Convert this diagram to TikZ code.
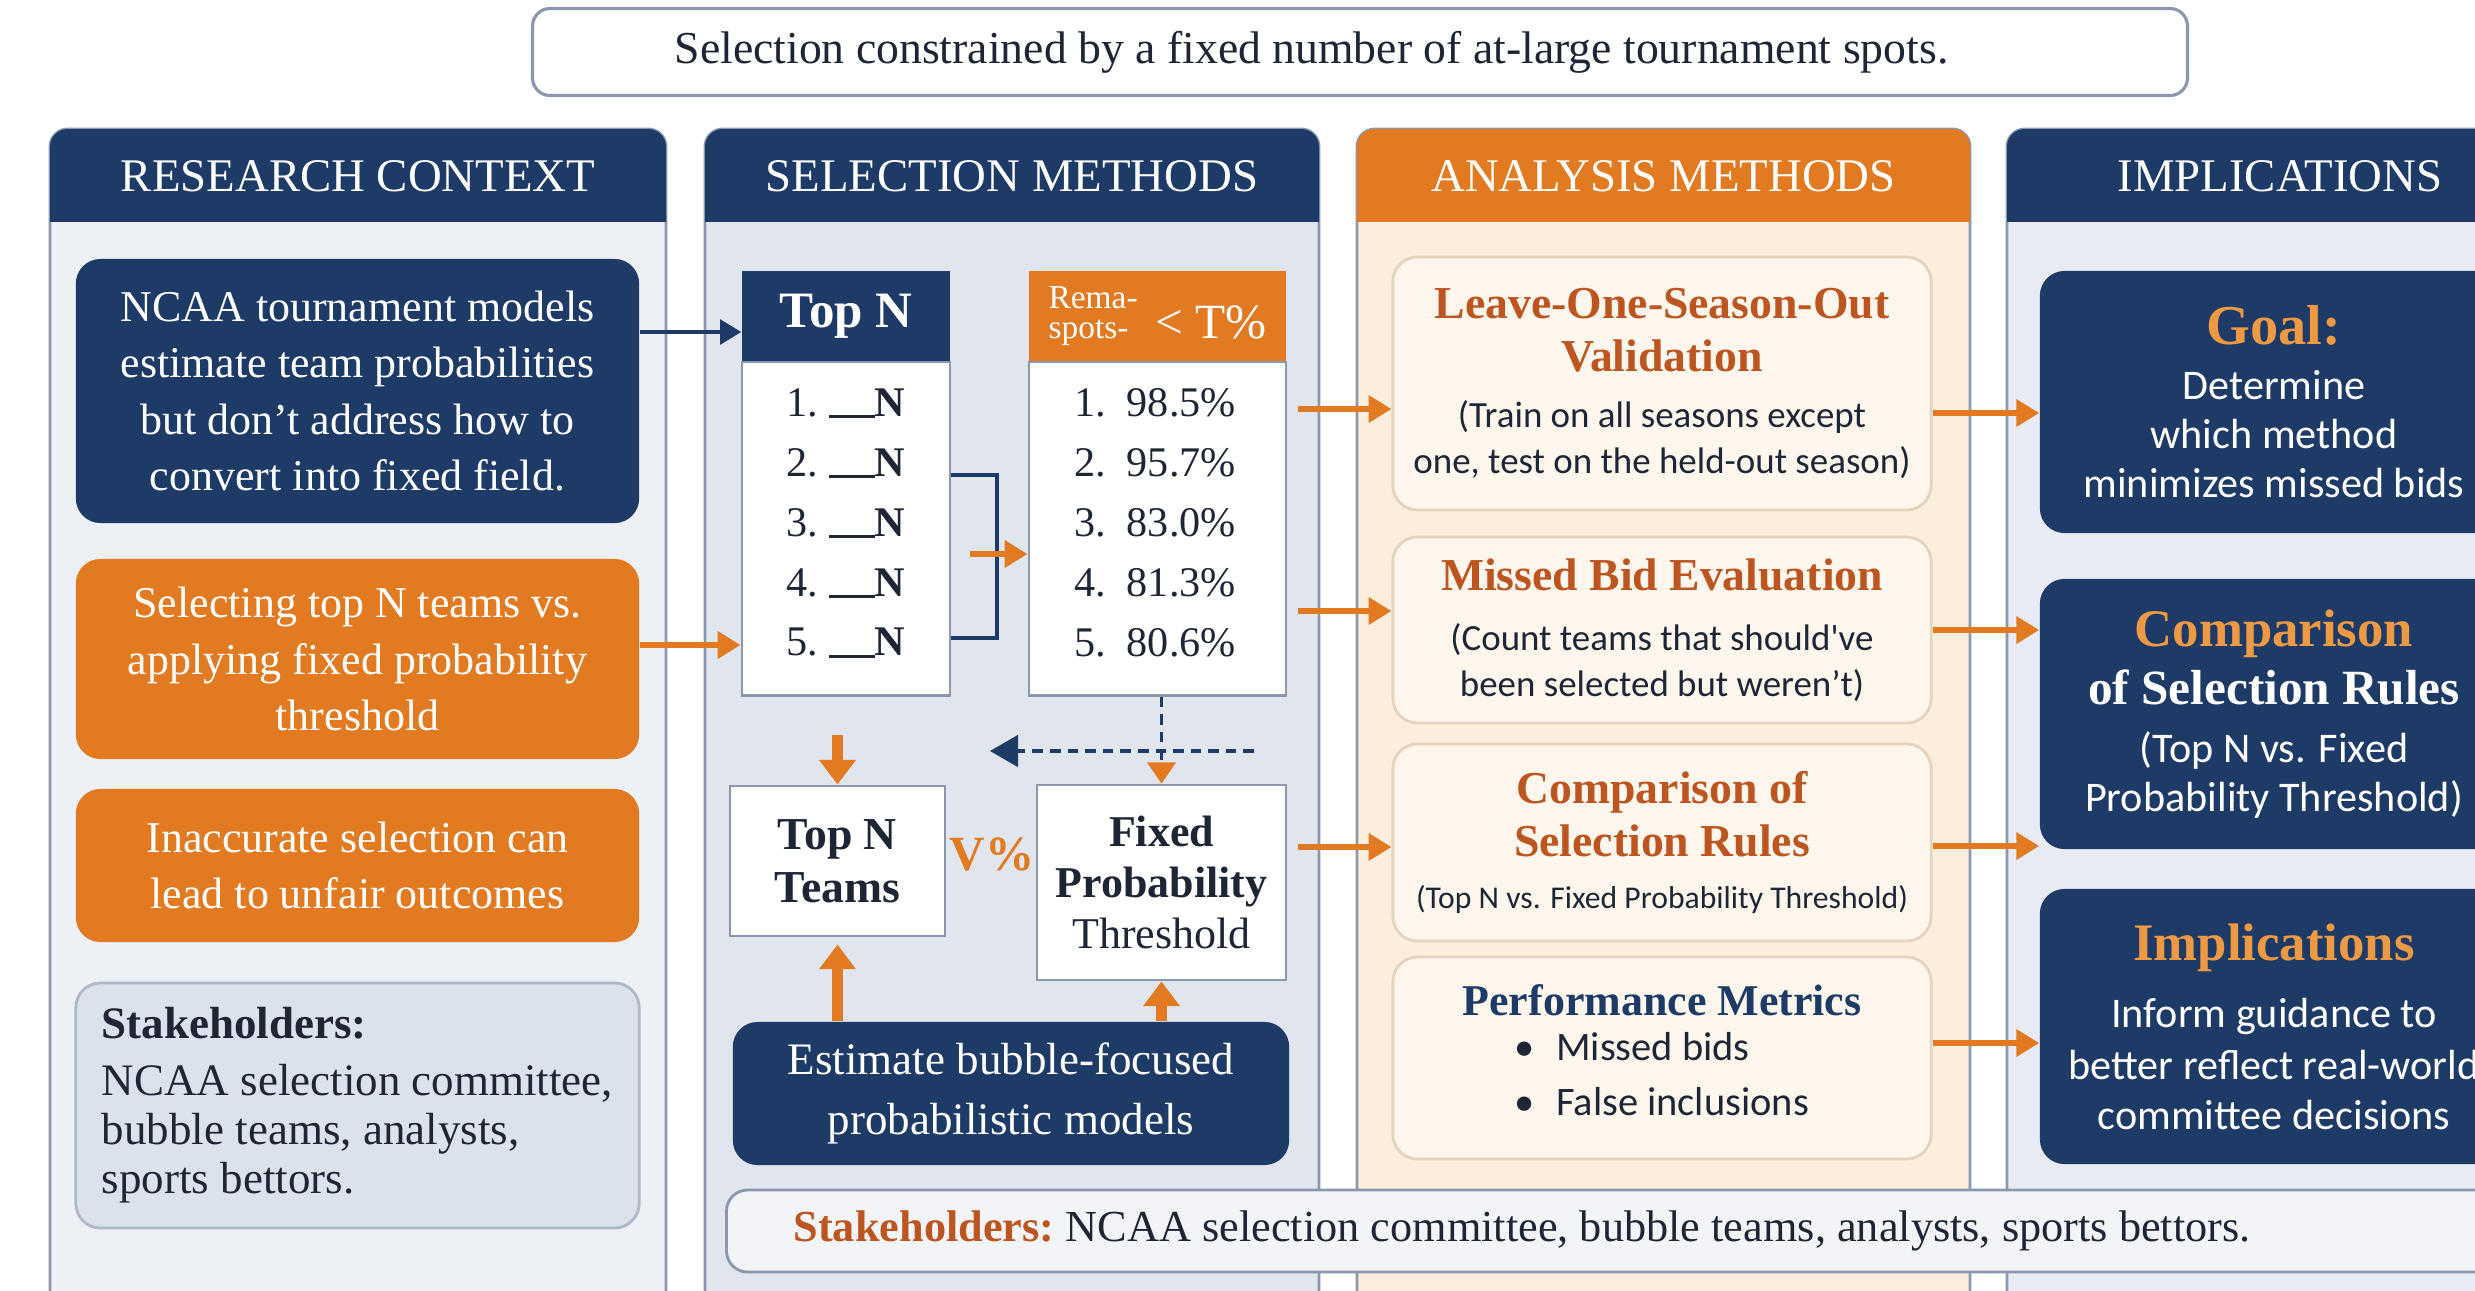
\documentclass[tikz,border=0pt]{standalone}
\usepackage{fontspec}
\setmainfont{Liberation Serif}
\newfontfamily\sansbody{Carlito}
\usetikzlibrary{arrows.meta}

\definecolor{navy}{HTML}{1D3B66}
\definecolor{orng}{HTML}{E27A22}
\definecolor{rust}{HTML}{BD5520}
\definecolor{goalor}{HTML}{EE9A45}
\definecolor{frame}{HTML}{8B97AC}
\definecolor{bgone}{HTML}{EDF0F5}
\definecolor{bgtwo}{HTML}{E1E5ED}
\definecolor{bgthree}{HTML}{FBEEDD}
\definecolor{bgfour}{HTML}{E8ECF2}
\definecolor{cream}{HTML}{FDF6EC}
\definecolor{tanline}{HTML}{E5D3BE}
\definecolor{stakebg}{HTML}{DCE2EC}
\definecolor{stakeline}{HTML}{AEB8C9}
\definecolor{barbg}{HTML}{F3F4F7}
\definecolor{ink}{HTML}{1E2535}

\newcommand\ctxsize{\fontsize{12.5}{16}\selectfont}
\newcommand\anahead[1]{{\color{rust}\bfseries\fontsize{13}{15}\selectfont #1}}
\newcommand\anasub[1]{{\sansbody\fontsize{10.5}{13}\selectfont #1}}
\newcommand\imphead[1]{{\color{goalor}\bfseries\fontsize{15}{17}\selectfont #1}}
\newcommand\impsub[1]{{\sansbody\fontsize{12}{14}\selectfont #1}}

\tikzset{
  box/.style={rounded corners=7pt, align=center, inner sep=0pt},
  navybox/.style={box, fill=navy, text=white},
  orangebox/.style={box, fill=orng, text=white},
  creambox/.style={box, fill=cream, draw=tanline, line width=0.8pt,
    minimum width=5.38cm, font=\fontsize{11}{15}\selectfont, text=ink},
  implbox/.style={box, fill=navy, text=white, minimum width=4.68cm,
    font=\fontsize{12}{14}\selectfont},
  tablebox/.style={draw=frame, fill=white, line width=0.8pt, inner sep=0pt},
  rowtxt/.style={inner sep=0pt, text=ink, font=\fontsize{12}{14}\selectfont},
  headtxt/.style={text=white, font=\fontsize{13.3}{16}\selectfont},
  link/.style={orng, line width=1.6pt, -{Triangle[width=7.5pt,length=6.5pt]}},
  navylink/.style={navy, line width=1pt, -{Triangle[width=7pt,length=6pt]}},
  bigup/.style={orng, line width=3pt, -{Triangle[width=10pt,length=7pt]}},
}

\begin{document}
\begin{tikzpicture}[x=0.01cm, y=-0.01cm]
\useasboundingbox (0,0) rectangle (2475,1290);
\fill[white] (0,0) rectangle (2475,1290);
\clip (0,0) rectangle (2475,1290);

% columns
\foreach \xl/\xr/\bg/\hd/\nm/\ttl in {50/666/bgone/navy/ctx/RESEARCH CONTEXT,
    705/1319/bgtwo/navy/sel/SELECTION METHODS,
    1357/1970/bgthree/orng/ana/ANALYSIS METHODS,
    2007/2553/bgfour/navy/imp/IMPLICATIONS}{
  \draw[frame, fill=\bg, line width=0.8pt, rounded corners=5pt] (\xl,129) rectangle (\xr,1340);
  \begin{scope}
    \clip (\xl,129) rectangle (\xr,221);
    \fill[\hd, rounded corners=5pt] (\xl,129) rectangle (\xr,260);
  \end{scope}
  \node[headtxt] (\nm) at ({(\xl+\xr)/2},176) {\ttl};
}

\node[draw=frame, fill=white, rounded corners=5pt, line width=0.9pt, minimum width=16.54cm,
  minimum height=0.87cm, text width=13.7cm, align=left, inner sep=0pt, text=ink,
  font=\fontsize{13}{15}\selectfont] (banner) at (1360,52)
  {\spaceskip=0pt\xspaceskip=0pt Selection constrained by a fixed number of at-large tournament spots.};

% research context
\node[navybox, minimum width=5.63cm, minimum height=2.64cm, font=\ctxsize] (ncaa) at (357.5,391)
  {NCAA tournament models\\estimate team probabilities\\but don’t address how to\\convert into fixed field.};
\node[orangebox, minimum width=5.63cm, minimum height=2.0cm, font=\ctxsize] (select) at (357.5,659)
  {Selecting top N teams vs.\\applying fixed probability\\threshold};
\node[orangebox, minimum width=5.63cm, minimum height=1.53cm, font=\ctxsize] (inacc) at (357.5,865.5)
  {Inaccurate selection can\\lead to unfair outcomes};
\node[box, fill=stakebg, draw=stakeline, line width=0.8pt, minimum width=5.63cm, minimum height=2.45cm,
  align=left, text=ink, font=\fontsize{12.8}{14}\selectfont] (stake) at (357.5,1105.5)
  {\textbf{Stakeholders:}\\[2pt]NCAA selection committee,\\bubble teams, analysts,\\sports bettors.};

% selection methods
\node[fill=navy, text=white, inner sep=0pt, minimum width=2.08cm, minimum height=0.90cm,
  font=\bfseries\fontsize{14.5}{16}\selectfont] (topnh) at (846,316) {Top N};
\node[tablebox, minimum width=2.08cm, minimum height=3.33cm] (topnb) at (846,528.5) {};
\node[fill=orng, text=white, inner sep=0pt, minimum width=2.57cm, minimum height=0.90cm] (thrh) at (1157.5,316)
  {{\fontsize{9.5}{8}\selectfont\shortstack[l]{Rema-\\spots-}}\hspace{5pt}{\fontsize{14}{16}\selectfont< T\%}};
\node[tablebox, minimum width=2.57cm, minimum height=3.33cm] (thrb) at (1157.5,528.5) {};
\foreach \i/\p in {1/98.5,2/95.7,3/83.0,4/81.3,5/80.6}{
  \node[rowtxt] (n\i) at (846,{343+60*\i}) {\i.~\rule[-0.5pt]{13pt}{0.7pt}\textbf{N}};
  \node[rowtxt] (p\i) at (1155,{343+60*\i}) {\i.\hspace{6pt}\p\%};
}
\draw[navy, line width=1pt] (topnb.east |- 0,475) -| (997,638) -- (topnb.east |- 0,638);
\coordinate (brk) at (970,554);
\draw[link] (brk) -- (thrb.west |- brk);

\node[tablebox, minimum width=2.15cm, minimum height=1.50cm, align=center, text=ink,
  font=\bfseries\fontsize{13}{15}\selectfont] (tnteams) at (837.5,861) {Top N\\Teams};
\node[text=orng, font=\bfseries\fontsize{14}{16}\selectfont] (vpct) at (992,854) {V\%};
\node[tablebox, minimum width=2.49cm, minimum height=1.95cm, align=center, text=ink,
  font=\fontsize{12.5}{14.5}\selectfont] (fixed) at (1161.5,882.5)
  {\textbf{Fixed}\\\textbf{Probability}\\Threshold};
\node[navybox, minimum width=5.56cm, minimum height=1.43cm, font=\fontsize{12.8}{17}\selectfont] (estimate)
  at (1011,1093.5) {Estimate bubble-focused\\probabilistic models};

\draw[bigup, shorten <=11pt] (tnteams.north |- topnb.south) -- (tnteams.north);
\draw[bigup, shorten >=2pt] (tnteams.south |- estimate.north) -- (tnteams.south);
\draw[bigup] (fixed.south |- estimate.north) -- (fixed.south);
\coordinate (dashr) at (1254,751);
\coordinate (dashl) at (990,751);
\draw[navy, dash pattern=on 3pt off 2pt, line width=0.9pt, -{Triangle[width=9pt,length=8pt]}] (dashr) -- (dashl);
\draw[navy, dash pattern=on 3pt off 2pt, line width=0.9pt, -{Triangle[width=8pt,length=6pt,color=orng]}]
  (fixed.north |- thrb.south) -- (fixed.north);

\node[box, fill=barbg, draw=frame, line width=0.8pt, rounded corners=6pt, minimum width=17.73cm,
  minimum height=0.82cm, text width=16.39cm, align=left, text=ink, font=\fontsize{12.6}{14}\selectfont]
  (bar) at (1613.5,1231)
  {\spaceskip=0pt\xspaceskip=0pt\textcolor{rust}{\textbf{Stakeholders:}}\ NCAA selection committee, bubble teams, analysts, sports bettors.};

% analysis methods
\node[creambox, minimum height=2.53cm] (b1) at (1662,383.5)
  {\anahead{Leave-One-Season-Out}\\\anahead{Validation}\\[1pt]\anasub{(Train on all seasons except}\\[-2pt]\anasub{one, test on the held-out season)}};
\node[creambox, minimum height=1.86cm] (b2) at (1662,630)
  {\anahead{Missed Bid Evaluation}\\[2pt]\anasub{(Count teams that should've}\\[-2pt]\anasub{been selected but weren’t)}};
\node[creambox, minimum height=1.97cm] (b3) at (1662,842.5)
  {\anahead{Comparison of}\\\anahead{Selection Rules}\\{\sansbody\fontsize{9}{11}\selectfont (Top N vs. Fixed Probability Threshold)}};
\node[creambox, minimum height=2.02cm] (b4) at (1662,1058)
  {{\color{navy}\bfseries\fontsize{12.5}{15}\selectfont Performance Metrics}\\[1pt]
   \sansbody\fontsize{11.5}{15.5}\selectfont\begin{tabular}{@{}l@{}}\textbullet\hspace{6pt}Missed bids\\\textbullet\hspace{6pt}False inclusions\end{tabular}};

% implications
\node[implbox, minimum height=2.62cm] (goal) at (2274,402)
  {{\color{goalor}\bfseries\fontsize{16}{18}\selectfont Goal:}\\[1.5pt]\impsub{Determine}\\\impsub{which method}\\\impsub{minimizes missed bids}};
\node[implbox, minimum height=2.70cm] (comp) at (2274,714)
  {\imphead{Comparison}\\[2.5pt]{\bfseries\fontsize{14}{16}\selectfont of Selection Rules}\\[2.5pt]\impsub{(Top N vs. Fixed}\\\impsub{Probability Threshold)}};
\node[implbox, minimum height=2.75cm] (impl) at (2274,1026.5)
  {\imphead{Implications}\\[5pt]\impsub{Inform guidance to}\\[1pt]\impsub{better reflect real-world}\\\impsub{committee decisions}};

% connectors
\draw[navylink] (ncaa.east |- 0,332) -- (topnh.west |- 0,332);
\draw[link] (select.east |- 0,645) -- (topnb.west |- 0,645);
\draw[link, shorten <=3pt] (thrb.east |- 0,409) -- (b1.west |- 0,409);
\draw[link, shorten <=3pt] (thrb.east |- 0,611) -- (b2.west |- 0,611);
\draw[link, shorten <=3pt] (fixed.east |- 0,847) -- (b3.west |- 0,847);
\draw[link] (b1.east |- 0,413) -- (goal.west |- 0,413);
\draw[link] (b2.east |- 0,630) -- (comp.west |- 0,630);
\draw[link] (b3.east |- 0,846) -- (comp.west |- 0,846);
\draw[link] (b4.east |- 0,1043) -- (impl.west |- 0,1043);
\end{tikzpicture}
\end{document}
